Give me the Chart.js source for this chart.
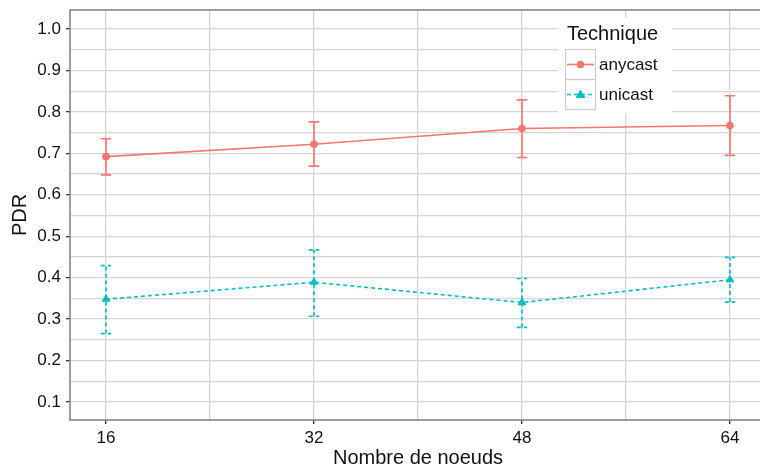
<!DOCTYPE html>
<html>
<head>
<meta charset="utf-8">
<script src="https://cdn.jsdelivr.net/npm/chart.js@4"></script>
<style>
  html, body { margin: 0; padding: 0; background: #fff; overflow: hidden; }
  #wrap { width: 766px; height: 468px; }
</style>
</head>
<body>
<div id="wrap"><canvas id="chart" width="766" height="468"></canvas></div>
<script>
// values
const nodeCounts = [16, 32, 48, 64];
const anycastPdr = [0.692, 0.722, 0.760, 0.767];
const anycastLow = [0.648, 0.669, 0.690, 0.695];
const anycastHigh = [0.735, 0.776, 0.829, 0.839];
const unicastPdr = [0.348, 0.389, 0.340, 0.395];
const unicastLow = [0.265, 0.307, 0.280, 0.341];
const unicastHigh = [0.429, 0.467, 0.398, 0.449];

const xMajorTicks = [16, 32, 48, 64];
const xMinorTicks = [24, 40, 56];
const yMajorTicks = [0.1, 0.2, 0.3, 0.4, 0.5, 0.6, 0.7, 0.8, 0.9, 1.0];
const yMinorTicks = [0.15, 0.25, 0.35, 0.45, 0.55, 0.65, 0.75, 0.85, 0.95];

const seriesNames = ["anycast", "unicast"];
const legendTitle = "Technique";
const capWidth = 0.8;

const RED = "#F8766D";
const TEAL = "#00BFC4";
const FONT = "'Liberation Sans', Arial, sans-serif";

function points(ys, lo, hi) {
  return nodeCounts.map((n, i) => ({ x: n, y: ys[i], low: lo[i], high: hi[i] }));
}

function allTicks(major, minor) {
  return major.concat(minor).sort((a, b) => a - b).map((v) => ({ value: v }));
}
function isMajor(list, v) {
  return list.some((m) => Math.abs(m - v) < 1e-9);
}

const errorBars = {
  id: "errorBars",
  beforeDatasetsDraw(chart) {
    const { ctx, scales } = chart;
    const x = scales.x, y = scales.y;
    chart.data.datasets.forEach((ds) => {
      ctx.save();
      ctx.strokeStyle = ds.borderColor;
      ctx.lineWidth = 1.6;
      ctx.setLineDash(ds.borderDash || []);
      ds.data.forEach((p) => {
        const xc = x.getPixelForValue(p.x);
        const x0 = x.getPixelForValue(p.x - capWidth / 2);
        const x1 = x.getPixelForValue(p.x + capWidth / 2);
        const yl = y.getPixelForValue(p.low);
        const yh = y.getPixelForValue(p.high);
        ctx.beginPath();
        ctx.moveTo(xc, yl); ctx.lineTo(xc, yh);
        ctx.moveTo(x0, yl); ctx.lineTo(x1, yl);
        ctx.moveTo(x0, yh); ctx.lineTo(x1, yh);
        ctx.stroke();
      });
      ctx.restore();
    });
  },
};

const panelAndLegend = {
  id: "panelAndLegend",
  afterDraw(chart) {
    const { ctx, chartArea } = chart;
    ctx.save();
    ctx.strokeStyle = "#7f7f7f";
    ctx.lineWidth = 1.5;
    ctx.strokeRect(chartArea.left, chartArea.top, chartArea.right - chartArea.left, chartArea.bottom - chartArea.top);

    // legend box
    ctx.fillStyle = "#fff";
    ctx.fillRect(558, 18, 114, 96);
    ctx.fillStyle = "#111";
    ctx.font = "20px " + FONT;
    ctx.textBaseline = "middle";
    ctx.textAlign = "left";
    ctx.fillText(legendTitle, 567, 34);

    chart.data.datasets.forEach((ds, i) => {
      const top = 49.5 + i * 30;
      const cy = top + 15;
      ctx.setLineDash([]);
      ctx.strokeStyle = "#cccccc";
      ctx.lineWidth = 1.2;
      ctx.strokeRect(565.5, top, 30, 30);
      ctx.strokeStyle = ds.borderColor;
      ctx.lineWidth = 1.6;
      ctx.setLineDash(ds.borderDash || []);
      ctx.beginPath();
      ctx.moveTo(567, cy); ctx.lineTo(594, cy);
      ctx.stroke();
      ctx.setLineDash([]);
      ctx.fillStyle = ds.borderColor;
      ctx.beginPath();
      if (ds.pointStyle === "triangle") {
        ctx.moveTo(580.5, cy - 5); ctx.lineTo(585.5, cy + 3.5); ctx.lineTo(575.5, cy + 3.5);
        ctx.closePath();
      } else {
        ctx.arc(580.5, cy, 3.8, 0, Math.PI * 2);
      }
      ctx.fill();
      ctx.fillStyle = "#111";
      ctx.font = "17px " + FONT;
      ctx.fillText(seriesNames[i], 599, cy + 1);
    });
    ctx.restore();
  },
};

new Chart(document.getElementById("chart"), {
  type: "line",
  data: {
    datasets: [
      {
        label: seriesNames[0],
        data: points(anycastPdr, anycastLow, anycastHigh),
        borderColor: RED,
        backgroundColor: RED,
        borderWidth: 1.6,
        pointStyle: "circle",
        pointRadius: 3.8,
        pointBorderWidth: 0,
      },
      {
        label: seriesNames[1],
        data: points(unicastPdr, unicastLow, unicastHigh),
        borderColor: TEAL,
        backgroundColor: TEAL,
        borderWidth: 1.6,
        borderDash: [4, 3],
        pointStyle: "triangle",
        pointRadius: 5.2,
        pointBorderWidth: 0,
      },
    ],
  },
  options: {
    responsive: false,
    animation: false,
    layout: { padding: { top: 10, left: 0, right: 0, bottom: 0 }, autoPadding: false },
    plugins: { legend: { display: false }, tooltip: { enabled: false } },
    scales: {
      x: {
        type: "linear",
        min: 13.23,
        max: 66.77,
        afterBuildTicks: (s) => { s.ticks = allTicks(xMajorTicks, xMinorTicks); },
        afterFit: (s) => { s.height = 48; s.paddingLeft = 0; s.paddingRight = 0; },
        ticks: {
          autoSkip: false,
          maxRotation: 0,
          padding: 4,
          color: "#111",
          font: { family: FONT, size: 17 },
          callback: (v) => (isMajor(xMajorTicks, v) ? String(v) : ""),
        },
        grid: {
          color: "#d6d6d6",
          lineWidth: 1.3,
          tickLength: 4,
          tickColor: (c) => (c.tick && isMajor(xMajorTicks, c.tick.value) ? "#333" : "rgba(0,0,0,0)"),
        },
        border: { display: false },
        title: {
          display: true,
          text: "Nombre de noeuds",
          color: "#111",
          font: { family: FONT, size: 20 },
          padding: { top: 0, bottom: -2 },
        },
      },
      y: {
        type: "linear",
        min: 0.0566,
        max: 1.0458,
        afterBuildTicks: (s) => { s.ticks = allTicks(yMajorTicks, yMinorTicks); },
        afterFit: (s) => { s.width = 70; s.paddingTop = 0; s.paddingBottom = 0; },
        ticks: {
          autoSkip: false,
          padding: 5,
          color: "#111",
          font: { family: FONT, size: 17 },
          callback: (v) => (isMajor(yMajorTicks, v) ? v.toFixed(1) : ""),
        },
        grid: {
          color: "#d6d6d6",
          lineWidth: 1.3,
          tickLength: 4,
          tickColor: (c) => (c.tick && isMajor(yMajorTicks, c.tick.value) ? "#333" : "rgba(0,0,0,0)"),
        },
        border: { display: false },
        title: {
          display: true,
          text: "PDR",
          color: "#111",
          font: { family: FONT, size: 20 },
          padding: { top: 8, bottom: 0 },
        },
      },
    },
  },
  plugins: [errorBars, panelAndLegend],
});
</script>
</body>
</html>
